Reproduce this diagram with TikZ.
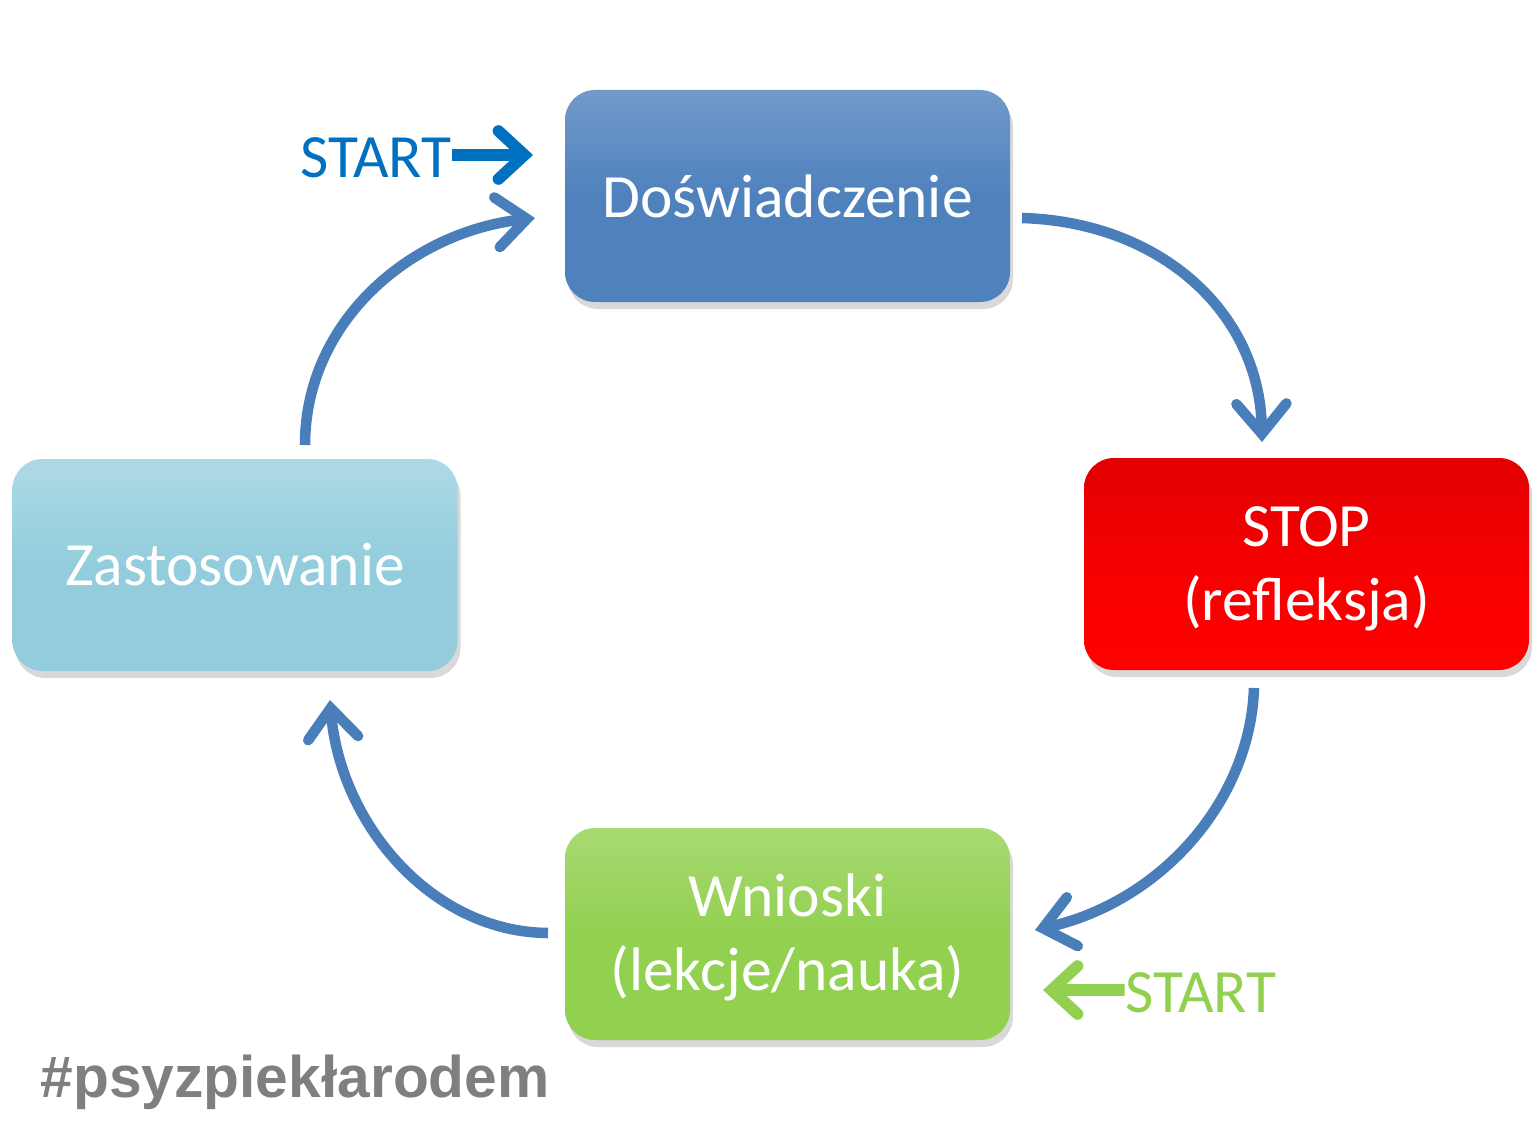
\documentclass[tikz,border=0pt]{standalone}
\usepackage{fontspec}
\setmainfont{Carlito}
\newfontfamily\tagfont{Liberation Sans}
\usetikzlibrary{arrows.meta,shadows}
\definecolor{cycblue}{HTML}{4F81BD}
\definecolor{cycarrow}{HTML}{4A7EBB}
\definecolor{cycred}{HTML}{F50000}
\definecolor{cyclight}{HTML}{93CDDD}
\definecolor{cycgreen}{HTML}{92D050}
\definecolor{startblue}{HTML}{0070C0}
\definecolor{taggray}{HTML}{7F7F7F}

\begin{document}
\begin{tikzpicture}[x=1cm,y=1cm,
  stagebox/.style={rounded corners=0.3cm, minimum width=4.45cm, minimum height=2.12cm,
    align=center, text=white, font=\fontsize{17.5}{21}\selectfont,
    drop shadow={shadow xshift=0.03cm, shadow yshift=-0.07cm, opacity=0.3}},
  cycle/.style={cycarrow, line width=3pt,
    -{Straight Barb[length=0.3cm, width=0.5cm, line width=3pt, line cap=round]}},
  startarrow/.style={line width=3.3pt,
    -{Straight Barb[length=0.26cm, width=0.48cm, line width=3.3pt, line cap=round]}},
  starttext/.style={inner sep=0pt, font=\fontsize{17.5}{21}\selectfont}]
  \useasboundingbox (0,0) rectangle (15.36,11.42);

  % stages of the cycle
  \node[stagebox, top color=cycblue!80!white, bottom color=cycblue, middle color=cycblue] (exp) at (7.875,9.46) {Doświadczenie};
  \node[stagebox, top color=cycred!92!black, bottom color=red, middle color=cycred] (stop) at (13.065,5.78) {\rule{0pt}{0.5cm}STOP\\(refleksja)};
  \node[stagebox, top color=cyclight!75!white, bottom color=cyclight, middle color=cyclight] (apply) at (2.35,5.77) {Zastosowanie};
  \node[stagebox, top color=cycgreen!80!white, bottom color=cycgreen, middle color=cycgreen] (concl) at (7.875,2.08) {\rule{0pt}{0.5cm}Wnioski\\(lekcje/nauka)};

  % cycle arrows
  \coordinate (e1) at (10.22,9.24);
  \coordinate (s1) at (12.62,7.00);
  \coordinate (s2) at (12.54,4.54);
  \coordinate (c2) at (10.35,2.12);
  \coordinate (c3) at (5.48,2.09);
  \coordinate (a3) at (3.30,4.42);
  \coordinate (a4) at (3.05,6.97);
  \coordinate (e4) at (5.35,9.24);
  \draw[cycle] (e1) .. controls (11.6,9.2) and (12.6,8.3) .. (s1);
  \draw[cycle] (s2) .. controls (12.5,3.4) and (11.6,2.4) .. (c2);
  \draw[cycle] (c3) .. controls (4.3,2.1) and (3.4,3.2) .. (a3);
  \draw[cycle] (a4) .. controls (3.05,8.2) and (4.1,9.1) .. (e4);

  % start markers
  \node[starttext, text=startblue] (startexp) at (3.76,9.84) {START};
  \coordinate (pexp) at (5.33,9.87);
  \draw[startarrow, startblue] (startexp.east) ++(0,0.03) -- (pexp);
  \node[starttext, text=cycgreen] (startconcl) at (12.01,1.49) {START};
  \coordinate (pconcl) at (10.43,1.52);
  \draw[startarrow, cycgreen] (startconcl.west) ++(0,0.03) -- (pconcl);

  % hashtag
  \node[anchor=base west, inner sep=0pt, text=taggray, font=\tagfont\bfseries\fontsize{16.7}{20}\selectfont] (tag) at (0.40,0.45) {\#psyzpiekłarodem};
\end{tikzpicture}
\end{document}
